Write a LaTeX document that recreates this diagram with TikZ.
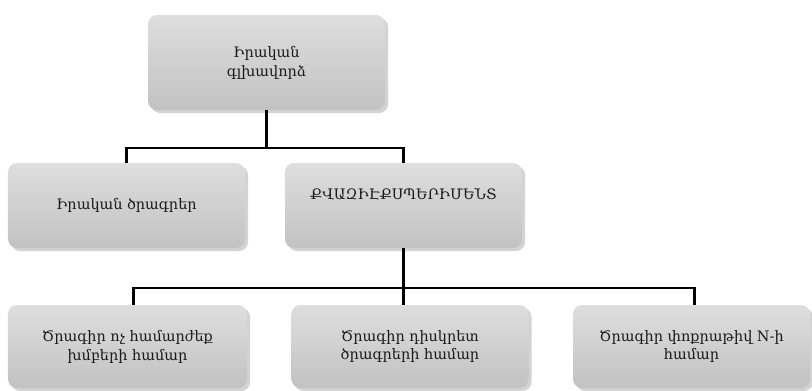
\documentclass[tikz,border=0pt]{standalone}
\usepackage{fontspec}
\setmainfont{DejaVu Serif}
\usepackage{xcolor}
\usepackage{tikz}
\usetikzlibrary{shadows}
\definecolor{cardtop}{HTML}{DEDEDE}
\definecolor{cardbot}{HTML}{C2C2C2}
\definecolor{wirec}{HTML}{000000}
\definecolor{text}{HTML}{1A1A1A}
\tikzset{
  card/.style={rectangle, rounded corners=9bp, top color=cardtop, bottom color=cardbot,
    draw=none, drop shadow={shadow xshift=3bp, shadow yshift=-3bp, opacity=0.35},
    minimum width=237bp, minimum height=85bp, align=center, text=text,
    font=\fontsize{14.5}{19}\selectfont},
  lab/.style={text=text, font=\fontsize{14.5}{19}\selectfont},
  wire/.style={draw=wirec, line width=2.6bp}
}

\begin{document}
\begin{tikzpicture}[x=1bp, y=-1bp]
  \useasboundingbox (0,0) rectangle (812,390);

  \node[card, minimum height=95bp] (main) at (266.5,62.5) {Իրական\\գլխավորձ};

  \node[card] (real) at (126.5,205.5) {Իրական ծրագրեր};
  \node[card, label={[lab, anchor=center, yshift=-31bp]north:ՔՎԱԶԻԷՔՍՊԵՐԻՄԵՆՏ}] (kvazi) at (403.5,205.5) {};

  \node[card, minimum width=239bp, minimum height=83bp] (nonequiv) at (127.5,346.5) {Ծրագիր ոչ համարժեք\\խմբերի համար};
  \node[card, minimum height=83bp] (discrete) at (410,346.5) {Ծրագիր դիսկրետ\\ծրագրերի համար};
  \node[card, minimum height=83bp] (smalln) at (691.5,346.5) {Ծրագիր փոքրաթիվ N-ի\\համար};

  \coordinate (busA) at (0,148);
  \coordinate (busB) at (0,288);

  \draw[wire] (main.south) -- (main.south |- busA);
  \draw[wire] (main.south |- busA) -| (real.north);
  \draw[wire] (main.south |- busA) -| (kvazi.north);

  \draw[wire] (kvazi.south) -- (kvazi.south |- discrete.north);
  \draw[wire] (kvazi.south |- busB) -| ([xshift=6bp]nonequiv.north);
  \draw[wire] (kvazi.south |- busB) -| ([xshift=3bp]smalln.north);
\end{tikzpicture}
\end{document}
